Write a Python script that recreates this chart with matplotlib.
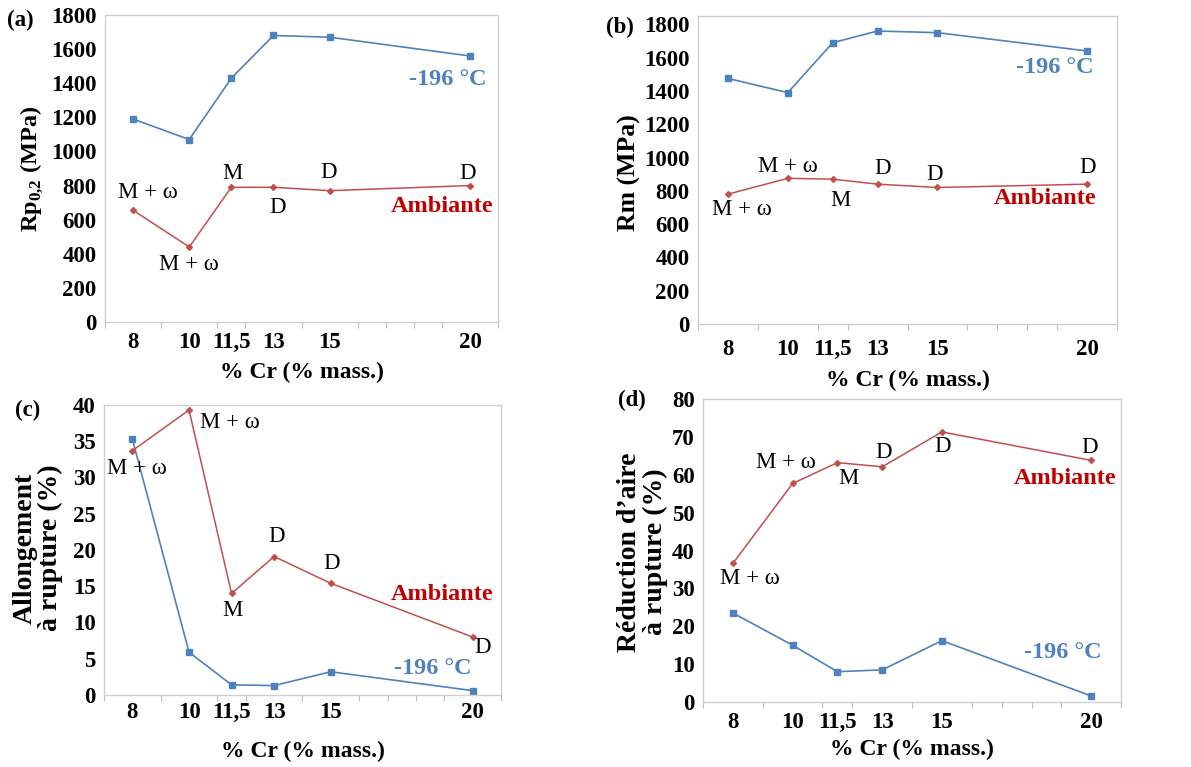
import numpy as np
import matplotlib.pyplot as plt

# % Cr (mass) of the alloys
cr = [8, 10, 11.5, 13, 15, 20]
cr_labels = ['8', '10', '11,5', '13', '15', '20']

# (a) yield strength Rp0,2 (MPa)
rp_cold = [1190, 1070, 1430, 1680, 1670, 1560]
rp_amb = [655, 440, 790, 790, 770, 800]
rp_phases = ['M + ω', 'M + ω', 'M', 'D', 'D', 'D']

# (b) tensile strength Rm (MPa)
rm_cold = [1475, 1390, 1690, 1760, 1750, 1640]
rm_amb = [780, 875, 870, 840, 820, 840]
rm_phases = ['M + ω', 'M + ω', 'M', 'D', 'D', 'D']

# (c) elongation at rupture (%)
el_cold = [35.3, 5.9, 1.4, 1.3, 3.2, 0.6]
el_amb = [33.7, 39.3, 14.0, 19.1, 15.4, 8.0]
el_phases = ['M + ω', 'M + ω', 'M', 'D', 'D', 'D']

# (d) reduction of area at rupture (%)
ra_cold = [23.5, 15.0, 8.0, 8.5, 16.2, 1.6]
ra_amb = [36.6, 57.7, 63.2, 62.1, 71.3, 63.8]
ra_phases = ['M + ω', 'M + ω', 'M', 'D', 'D', 'D']

BLUE = '#4F81BD'
RED = '#C0504D'
plt.rcParams['font.family'] = ['Liberation Serif', 'DejaVu Serif']
plt.rcParams['mathtext.fontset'] = 'custom'
plt.rcParams['mathtext.rm'] = 'Liberation Serif'
plt.rcParams['mathtext.bf'] = 'Liberation Serif:bold'

fig = plt.figure(figsize=(11.91, 7.67), dpi=100)

# panel setup: axes rect, ylabel, ylim, yticks, label offsets (px) for phases,
# position of '-196 °C' and 'Ambiante' (axes fraction), ylabel coords, pads
panels = [
    dict(rect=[0.0882, 0.5802, 0.3300, 0.4002], tag='(a)', tagpos=(20, 20),
         cold=rp_cold, amb=rp_amb, phases=rp_phases,
         ylabel=r'Rp$_{\mathbf{0{,}2}}$ (MPa)', ylsize=17.5,
         ylim=(0, 1800), yticks=np.arange(0, 1801, 200),
         offs=[(15, -18), (0, 18), (1, -14), (4, 20), (-1, -18), (-2, -12)],
         cpos=(0.873, 0.79), apos=(0.857, 0.375), ylc=(-0.155, 0.5),
         tpad=7.5, xpad=6),
    dict(rect=[0.5861, 0.5776, 0.3518, 0.4015], tag='(b)', tagpos=(620, 27),
         cold=rm_cold, amb=rm_amb, phases=rm_phases,
         ylabel='Rm (MPa)', ylsize=18.5,
         ylim=(0, 1850), yticks=np.arange(0, 1801, 200),
         offs=[(14, 15), (0, -12), (8, 21), (5, -16), (-3, -13), (0, -17)],
         cpos=(0.852, 0.834), apos=(0.828, 0.406), ylc=(-0.135, 0.49),
         tpad=11, xpad=7),
    dict(rect=[0.0873, 0.0939, 0.3333, 0.3781], tag='(c)', tagpos=(28, 410),
         cold=el_cold, amb=el_amb, phases=el_phases,
         ylabel='Allongement\nà rupture (%)', ylsize=20,
         ylim=(0, 40), yticks=np.arange(0, 41, 5),
         offs=[(5, 18), (41, 12), (1, 17), (2, -20), (1, -20), (10, 11)],
         cpos=(0.829, 0.09), apos=(0.851, 0.345), ylc=(-0.104, 0.507),
         tpad=5, xpad=13),
    dict(rect=[0.5903, 0.0847, 0.3510, 0.3951], tag='(d)', tagpos=(632, 400),
         cold=ra_cold, amb=ra_amb, phases=ra_phases,
         ylabel='Réduction d\u2019aire\nà rupture (%)', ylsize=20,
         ylim=(0, 80), yticks=np.arange(0, 81, 10),
         offs=[(17, 15), (-7, -21), (11, 16), (1, -14), (1, 15), (-2, -13)],
         cpos=(0.861, 0.162), apos=(0.866, 0.736), ylc=(-0.085, 0.495),
         tpad=7.5, xpad=4),
]

for p in panels:
    ax = fig.add_axes(p['rect'])
    ax.plot(cr, p['cold'], color=BLUE, lw=1.2, marker='s', ms=4.5)
    ax.plot(cr, p['amb'], color=RED, lw=1.1, marker='D', ms=3)

    for x, y, txt, (dx, dy) in zip(cr, p['amb'], p['phases'], p['offs']):
        ax.annotate(txt, (x, y), xytext=(dx, -dy), textcoords='offset pixels',
                    ha='center', va='center', fontsize=16.5, color='black')

    ax.text(p['cpos'][0], p['cpos'][1], '-196 °C', transform=ax.transAxes,
            ha='center', va='center', fontsize=17.5, color=BLUE, fontweight='bold')
    ax.text(p['apos'][0], p['apos'][1], 'Ambiante', transform=ax.transAxes,
            ha='center', va='center', fontsize=17.5, color='#C00000', fontweight='bold')

    ax.set_xlim(7, 21)
    ax.set_ylim(*p['ylim'])
    ax.set_xticks(cr)
    ax.set_xticklabels(cr_labels)
    ax.set_xticks(np.arange(7, 22, 1), minor=True)
    ax.set_yticks(p['yticks'])
    ax.tick_params(axis='x', which='major', length=0, pad=p['tpad'], labelsize=16.5)
    ax.tick_params(axis='x', which='minor', length=4, color='#BFBFBF', width=0.8)
    ax.tick_params(axis='y', length=0, pad=6, labelsize=16.5)
    for lbl in ax.get_xticklabels() + ax.get_yticklabels():
        lbl.set_fontweight('bold')
    for s in ax.spines.values():
        s.set_color('#D0D0D0')
        s.set_linewidth(1.0)

    ax.set_xlabel('% Cr (% mass.)', fontsize=17, fontweight='bold', labelpad=p['xpad'])
    ax.set_ylabel(p['ylabel'], fontsize=p['ylsize'], fontweight='bold', linespacing=1.0)
    ax.yaxis.set_label_coords(*p['ylc'])

    fig.text(p['tagpos'][0] / 1191, 1 - p['tagpos'][1] / 767, p['tag'],
             ha='center', va='center', fontsize=16.5, fontweight='bold')

fig.savefig('out.png', dpi=100)
